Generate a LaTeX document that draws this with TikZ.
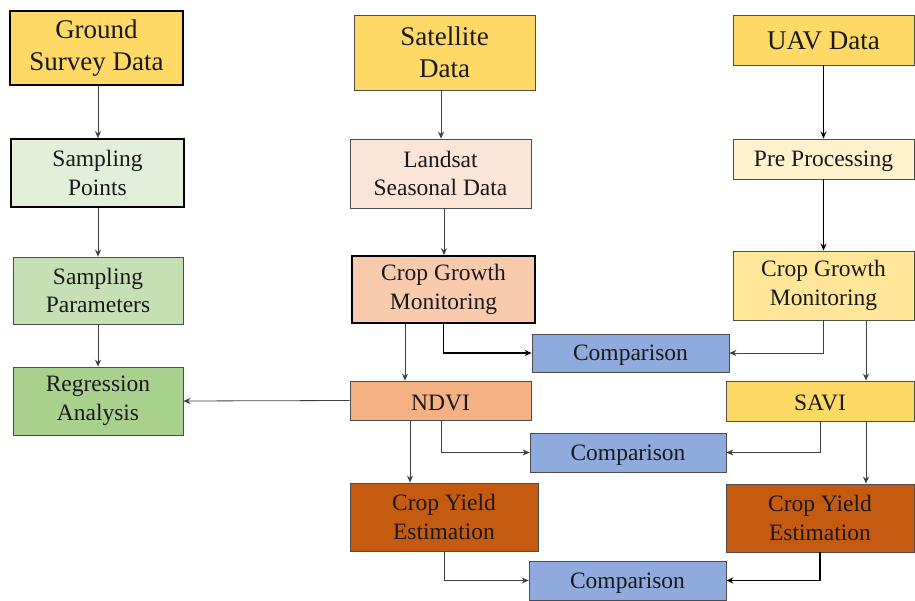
\documentclass[tikz,border=0pt]{standalone}
\usepackage{fontspec}
\setmainfont{Liberation Serif}
\usetikzlibrary{arrows.meta,calc}
\definecolor{gold}{HTML}{FFD966}
\definecolor{gspt}{HTML}{E2F0D9}
\definecolor{gpar}{HTML}{C5E0B4}
\definecolor{greg}{HTML}{A9D18E}
\definecolor{olan}{HTML}{FBE5D6}
\definecolor{ocgm}{HTML}{F8CBAD}
\definecolor{ondvi}{HTML}{F4B183}
\definecolor{ocye}{HTML}{C55A11}
\definecolor{ypre}{HTML}{FFF2CC}
\definecolor{ycgm}{HTML}{FFE699}
\definecolor{bcomp}{HTML}{8FAADC}
\tikzset{
  box/.style={draw=black!70, line width=0.8pt, align=center, inner sep=0pt,
    font=\fontsize{23.5}{28.5}\selectfont, text=black!90,
    execute at begin node={\rule{0pt}{20pt}}},
  thickbox/.style={box, draw=black, line width=1.6pt},
  topbox/.style={font=\fontsize{27}{32}\selectfont},
  arr/.style={draw=black!75, line width=0.8pt, -{Stealth[length=7pt,width=6pt]}},
  arrthick/.style={draw=black, line width=1.5pt, -{Stealth[length=7pt,width=6pt]}},
}
\begin{document}
\begin{tikzpicture}[x=1pt,y=-1pt]
\useasboundingbox (0,0) rectangle (915,601);
% left column
\node[thickbox, topbox, fill=gold, minimum width=173pt, minimum height=74pt] (g) at (96.5,48) {Ground\\Survey Data};
\node[thickbox, fill=gspt, minimum width=173pt, minimum height=68pt] (sp) at (97.5,173) {Sampling\\Points};
\node[box, fill=gpar, minimum width=170pt, minimum height=67pt] (par) at (98,290.5) {Sampling\\Parameters};
\node[box, fill=greg, minimum width=170pt, minimum height=68pt] (reg) at (98,401) {Regression\\Analysis};
% middle column
\node[box, topbox, fill=gold, minimum width=181pt, minimum height=75pt] (sat) at (444.5,52.5) {Satellite\\Data};
\node[box, fill=olan, minimum width=181pt, minimum height=69pt] (lan) at (440.5,173.5) {Landsat\\Seasonal Data};
\node[thickbox, fill=ocgm, minimum width=183pt, minimum height=67pt] (cgms) at (443.5,289.5) {Crop Growth\\Monitoring};
\node[box, fill=ondvi, minimum width=181pt, minimum height=39pt] (ndvi) at (440.5,400.5) {NDVI};
\node[box, fill=ocye, minimum width=188pt, minimum height=68pt] (cyel) at (444,517) {Crop Yield\\Estimation};
% right column
\node[box, topbox, fill=gold, minimum width=181pt, minimum height=50pt] (uav) at (823.5,40) {UAV Data};
\node[box, fill=ypre, minimum width=181pt, minimum height=40pt] (pre) at (823.5,159) {Pre Processing};
\node[box, fill=ycgm, minimum width=181pt, minimum height=69pt] (cgmu) at (823.5,285.5) {Crop Growth\\Monitoring};
\node[box, fill=gold, minimum width=188pt, minimum height=40pt] (savi) at (820,401) {SAVI};
\node[box, fill=ocye, minimum width=188pt, minimum height=68pt] (cyer) at (820,518) {Crop Yield\\Estimation};
% comparisons
\node[box, fill=bcomp, minimum width=197pt, minimum height=38pt] (c1) at (630.5,353) {Comparison};
\node[box, fill=bcomp, minimum width=196pt, minimum height=39pt] (c2) at (628,452.5) {Comparison};
\node[box, fill=bcomp, minimum width=197pt, minimum height=39pt] (c3) at (627.5,580.5) {Comparison};
% x positions
\coordinate (xa) at (405,0);
\coordinate (xb) at (441,0);
\coordinate (xc) at (410,0);
\coordinate (xd) at (866,0);
% connectors
\draw[arr] (g.south -| par.north) -- (sp.north -| par.north);
\draw[arr] (sp.south -| par.north) -- (par.north);
\draw[arr] (par.south) -- (reg.north);
\draw[arr] (sat.south -| xb) -- (lan.north -| xb);
\draw[arr] (lan.south -| cyel.north) -- (cgms.north -| cyel.north);
\draw[arr] (cgms.south -| xa) -- (ndvi.north -| xa);
\draw[arrthick] (cgms.south) |- (c1.west);
\draw[arrthick] (uav.south) -- (pre.north);
\draw[arrthick] (pre.south) -- (cgmu.north);
\draw[arr] (cgmu.south) |- (c1.east);
\draw[arr] (cgmu.south -| xd) -- (savi.north -| xd);
\draw[arr] (ndvi.west) -- (reg.east);
\draw[arr] (ndvi.south -| xb) |- (c2.west);
\draw[arr] (ndvi.south -| xc) -- (cyel.north -| xc);
\draw[arr] (savi.south) |- (c2.east);
\draw[arr] (savi.south -| xd) -- (cyer.north -| xd);
\draw[arr] (cyel.south) |- (c3.west);
\draw[arrthick] (cyer.south) |- (c3.east);
\end{tikzpicture}
\end{document}
